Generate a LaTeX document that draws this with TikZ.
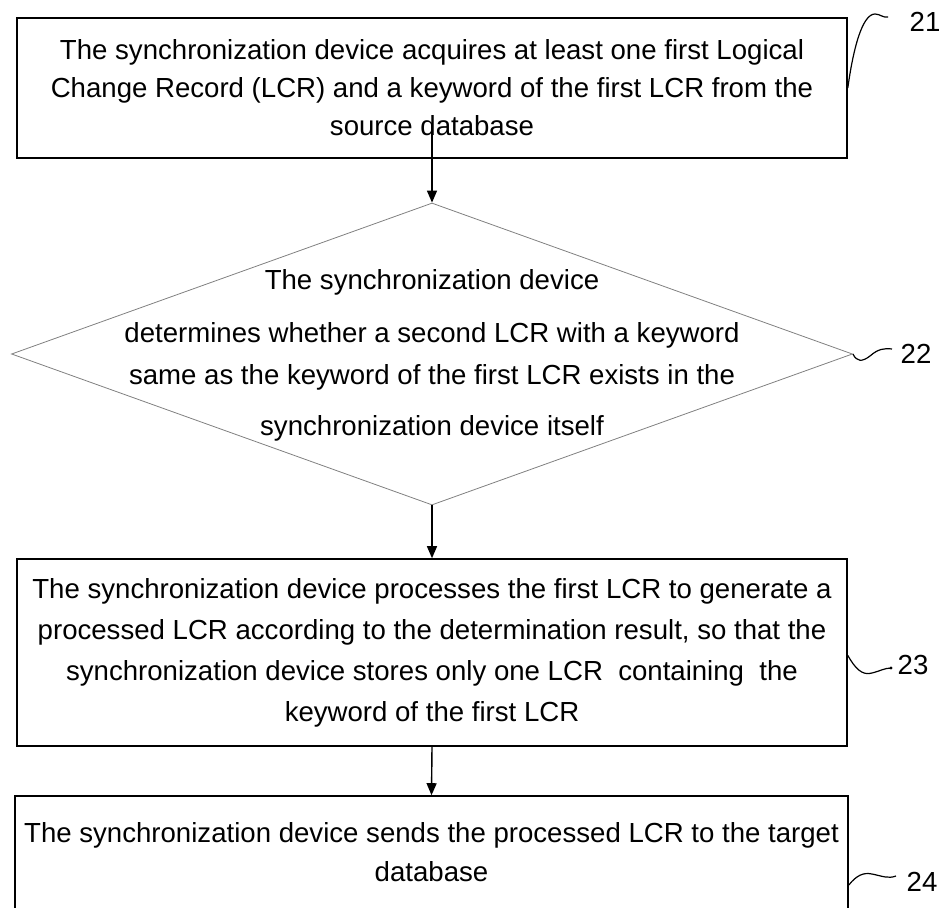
\documentclass[tikz,border=0pt]{standalone}
\usepackage{fontspec}
\setmainfont{Liberation Sans}
\usetikzlibrary{arrows.meta,shapes.geometric}
\begin{document}
\begin{tikzpicture}[x=1pt,y=-1pt,
    stepbox/.style={draw,line width=1.6pt,minimum width=830pt,inner sep=0pt,align=center},
    decision/.style={draw=gray,line width=0.8pt,shape=diamond,minimum width=841pt,minimum height=302pt,inner sep=0pt},
    flow/.style={line width=1.4pt,-{Triangle[length=12pt,width=10pt]}},
    lead/.style={line width=1.2pt},
    tag/.style={font=\fontsize{27.6}{30}\selectfont}]
        \useasboundingbox (0,0) rectangle (941,907);
        \node[stepbox,minimum height=140pt,font=\fontsize{27.6}{38}\selectfont] (b21) at (432,88) {
           The synchronization device acquires at least one first Logical\\
           Change Record (LCR) and a keyword of the first LCR from the\\
           source database};
        \node[decision] (d22) at (432,354) {};
        \node[align=center,font=\fontsize{27.6}{44}\selectfont] (t22) at (432,355) {
           The synchronization device\\[9pt]
           determines whether a second LCR with a keyword\\[-2pt]
           same as the keyword of the first LCR exists in the\\[7pt]
           synchronization device itself};
        \node[stepbox,minimum height=187pt,font=\fontsize{27.6}{41}\selectfont] (b23) at (432,652.5) {
           The synchronization device processes the first LCR to generate a\\
           processed LCR according to the determination result, so that the\\
           synchronization device stores only one LCR\ \ containing\ \ the\\
           keyword of the first LCR};
        \node[stepbox,minimum width=833pt,minimum height=124pt,text depth=12pt,font=\fontsize{27.6}{39}\selectfont] (b24) at (431.5,858) {
           The synchronization device sends the processed LCR to the target\\
           database};
        \draw[flow] ([yshift=36pt]b21.south) -- (d22.north);
        \draw[flow] (d22.south) -- (b23.north);
        \draw[flow] (b23.south) -- (b24.north);
        \node[tag] (l21) at (925,22) {21};
        \node[tag] (l22) at (916,354) {22};
        \node[tag] (l23) at (913,665) {23};
        \node[tag] (l24) at (922,882) {24};
        \coordinate (e21) at (888,17);
        \coordinate (e22) at (892,349);
        \coordinate (e23) at (891,668);
        \coordinate (e24) at (896,876);
        \draw[lead] (b21.east) .. controls (853,50) and (862,14) .. (875,14) .. controls (880,14) and (883,18) .. (e21);
        \draw[lead] (d22.east) .. controls (857,362) and (862,362) .. (870,356) .. controls (878,349) and (884,348) .. (e22);
        \draw[lead] ([yshift=-3pt]b23.east) .. controls (855,668) and (862,676) .. (872,673) .. controls (880,671) and (885,668) .. (e23);
        \fill (e23) circle (1.6pt);
        \draw[lead] ([yshift=-27pt]b24.east) .. controls (856,876) and (863,872) .. (872,874) .. controls (882,876) and (888,879) .. (e24);
      \end{tikzpicture}
\end{document}
